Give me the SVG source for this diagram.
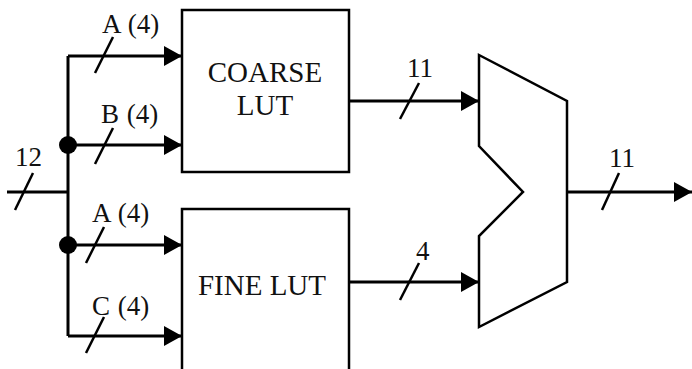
<svg xmlns="http://www.w3.org/2000/svg" width="692" height="369" viewBox="0 0 692 369">
<style>
.w{fill:none;stroke:#000;stroke-width:3}
.b{fill:#fff;stroke:#000;stroke-width:2.5}
.s{stroke:#000;stroke-width:2.5}
text{font-family:"Liberation Serif","Times New Roman",serif;fill:#111}
.l{font-size:27px;word-spacing:1px}
.n{font-size:29px;text-anchor:middle}
</style>
<defs>
<marker id="ah" markerWidth="18" markerHeight="20" refX="18" refY="10" orient="auto" markerUnits="userSpaceOnUse">
<path d="M0,0 L18,10 L0,20 Z" fill="#000"/>
</marker>
</defs>
<g id="coarse-lut">
<rect class="b" x="182" y="10" width="167" height="162"/>
<text class="n" x="265" y="82">COARSE</text>
<text class="n" x="265" y="115">LUT</text>
</g>
<g id="fine-lut">
<rect class="b" x="182" y="209" width="167" height="175"/>
<text class="n" x="262" y="295">FINE LUT</text>
</g>
<g id="mux">
<polygon class="b" points="479,55 567,101 567,282 479,327 479,236 523,192 479,146"/>
</g>
<g id="connectors">
<path class="w" d="M7,192 H68"/>
<path class="w" d="M68,56 V336"/>
<path class="w" d="M68,56 H182" marker-end="url(#ah)"/>
<path class="w" d="M68,145 H182" marker-end="url(#ah)"/>
<path class="w" d="M68,245 H182" marker-end="url(#ah)"/>
<path class="w" d="M68,336 H182" marker-end="url(#ah)"/>
<path class="w" d="M349,101 H479" marker-end="url(#ah)"/>
<path class="w" d="M349,282 H479" marker-end="url(#ah)"/>
<path class="w" d="M567,192 H692" marker-end="url(#ah)"/>
<circle cx="68" cy="145" r="9" fill="#000"/>
<circle cx="68" cy="245" r="9" fill="#000"/>
<line class="s" x1="15" y1="210" x2="33" y2="173"/>
<line class="s" x1="95" y1="73" x2="113" y2="37"/>
<line class="s" x1="95" y1="164" x2="113" y2="128"/>
<line class="s" x1="86" y1="263" x2="104" y2="227"/>
<line class="s" x1="86" y1="353" x2="104" y2="317"/>
<line class="s" x1="400" y1="119" x2="419" y2="83"/>
<line class="s" x1="400" y1="300" x2="419" y2="263"/>
<line class="s" x1="602" y1="210" x2="619" y2="173"/>
</g>
<g id="labels">
<text class="l" x="102" y="33">A (4)</text>
<text class="l" x="101" y="123">B (4)</text>
<text class="l" x="92" y="222">A (4)</text>
<text class="l" x="92" y="315">C (4)</text>
<text class="l" x="15" y="166">12</text>
<text class="l" x="407" y="77">11</text>
<text class="l" x="416" y="260">4</text>
<text class="l" x="609" y="167">11</text>
</g>
</svg>
